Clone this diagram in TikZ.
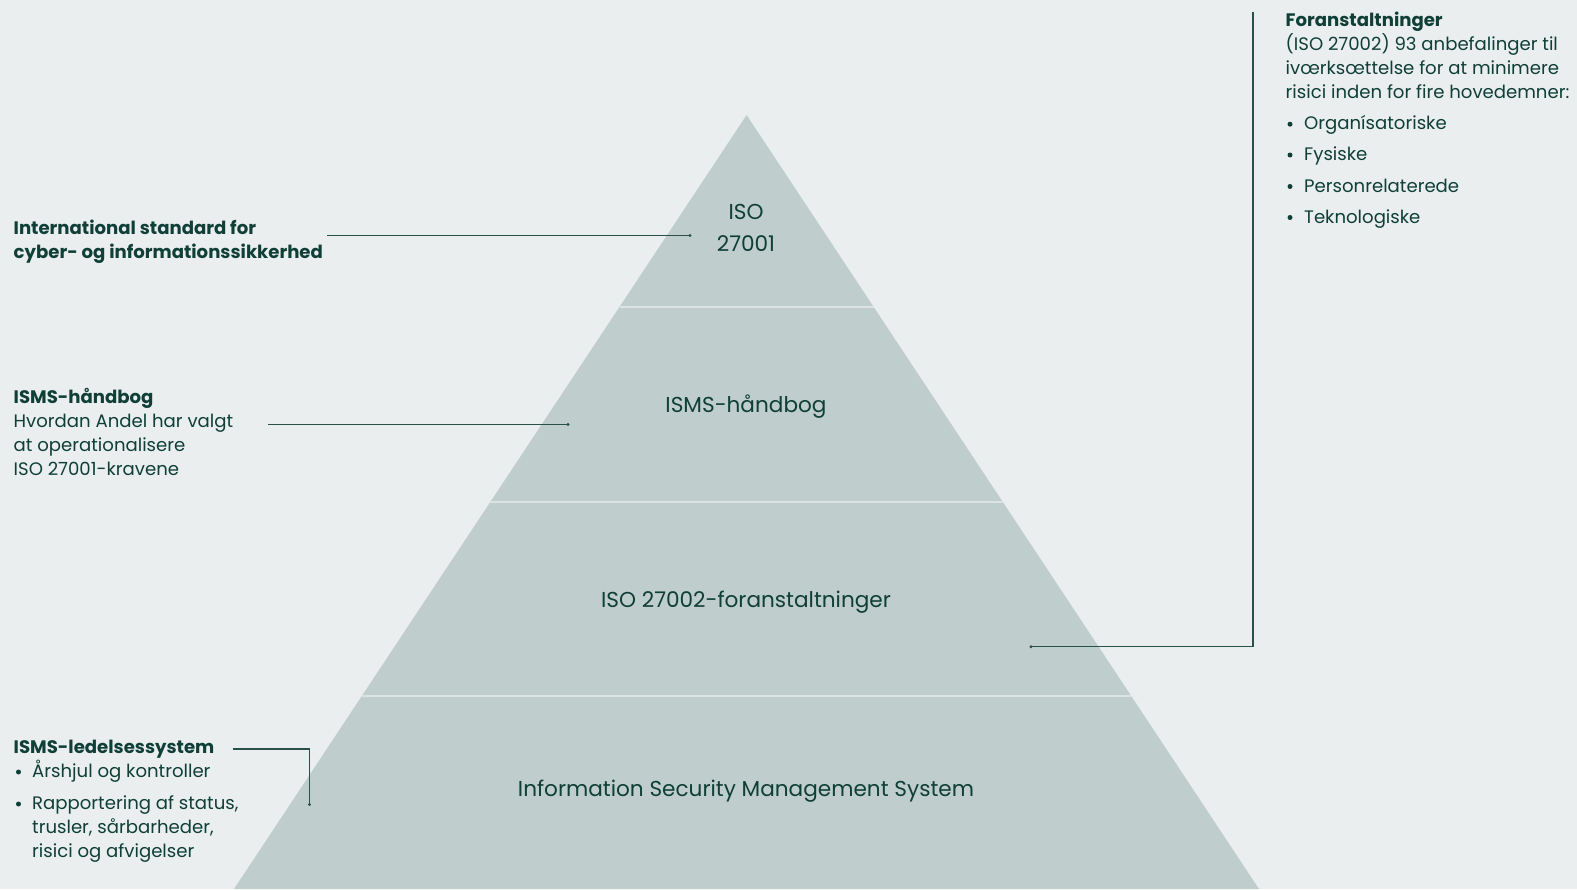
\documentclass[tikz,border=0pt]{standalone}
\usepackage{fontspec}
\setmainfont{Poppins}
\definecolor{bg}{HTML}{EAEEEE}
\definecolor{pyr}{HTML}{BFCECC}
\definecolor{sep}{HTML}{DCE4E2}
\definecolor{ink}{HTML}{0F3F37}
\definecolor{wire}{HTML}{2A504A}
\tikzset{
  side/.style={anchor=base west, inner sep=0pt, text=ink, font=\fontsize{18.1}{24}\selectfont},
  sidebold/.style={side, font=\fontsize{18.1}{24}\selectfont\bfseries},
  bul/.style={circle, fill=ink, inner sep=0pt, minimum size=5pt},
  lvl/.style={anchor=base, inner sep=0pt, text=ink, font=\fontsize{21.6}{30}\selectfont},
  wireline/.style={draw=wire, line width=1.3pt},
  enddot/.style={fill=wire},
}
\begin{document}
\begin{tikzpicture}[x=1pt,y=-1pt]
\useasboundingbox (0,0) rectangle (1577,889);
\fill[bg] (0,0) rectangle (1577,889);
% pyramid
\fill[pyr] (746.6,115) -- (1259,889) -- (234,889) -- cycle;
\draw[sep, line width=1.6pt] (619.7,306.7) -- (873.5,306.7);
\draw[sep, line width=1.6pt] (490.3,502) -- (1002.9,502);
\draw[sep, line width=1.6pt] (361.9,696) -- (1131.3,696);
% pyramid labels
\node[lvl] (l1a) at (746,219) {ISO};
\node[lvl] (l1b) at (746,251.5) {27001};
\node[lvl] (l2) at (746,412) {ISMS-håndbog};
\node[lvl] (l3) at (746,607.5) {ISO 27002-foranstaltninger};
\node[lvl] (l4) at (746,796) {Information Security Management System};
% left block 1
\node[sidebold] (t1a) at (13.5,234) {International standard for};
\node[sidebold] (t1b) at (13.5,258) {cyber- og informationssikkerhed};
\coordinate (c1s) at (327,235.5);
\coordinate (c1e) at (690,235.5);
\draw[wireline] (c1s) -- (c1e);
\fill[enddot] (c1e) circle (1.6);
% left block 2
\node[sidebold] (t2a) at (13.5,403) {ISMS-håndbog};
\node[side] (t2b) at (13.5,427.5) {Hvordan Andel har valgt};
\node[side] (t2c) at (13.5,451.5) {at operationalisere};
\node[side] (t2d) at (13.5,475.5) {ISO 27001-kravene};
\coordinate (c2s) at (268,424.5);
\coordinate (c2e) at (568,424.5);
\draw[wireline] (c2s) -- (c2e);
\fill[enddot] (c2e) circle (1.6);
% left block 3
\node[sidebold] (t3a) at (13.5,753) {ISMS-ledelsessystem};
\node[bul] (b3a) at (18.5,772) {};
\node[side] (t3b) at (32,777.5) {Årshjul og kontroller};
\node[bul] (b3b) at (18.5,804) {};
\node[side] (t3c) at (32,809.5) {Rapportering af status,};
\node[side] (t3d) at (32,833.5) {trusler, sårbarheder,};
\node[side] (t3e) at (32,857.5) {risici og afvigelser};
\coordinate (c3s) at (233.3,749);
\coordinate (c3k) at (309.5,749);
\coordinate (c3e) at (309.5,804.5);
\draw[wireline] (c3s) -- (c3k) -- (c3e);
\fill[enddot] (c3e) circle (1.6);
% right block
\node[sidebold] (r1) at (1285.5,26.7) {Foranstaltninger};
\node[side] (r2) at (1285.5,50.5) {(ISO 27002) 93 anbefalinger til};
\node[side] (r3) at (1285.5,74.5) {ivœrksœttelse for at minimere};
\node[side] (r4) at (1285.5,98.5) {risici inden for fire hovedemner:};
\node[bul] (rb1) at (1290,124.2) {};
\node[side] (r5) at (1304,129.7) {Organísatoriske};
\node[bul] (rb2) at (1290,155) {};
\node[side] (r6) at (1304,160.5) {Fysiske};
\node[bul] (rb3) at (1290,186.5) {};
\node[side] (r7) at (1304,192) {Personrelaterede};
\node[bul] (rb4) at (1290,217.5) {};
\node[side] (r8) at (1304,223) {Teknologiske};
\coordinate (c4s) at (1253,12);
\coordinate (c4k) at (1253,646.7);
\coordinate (c4e) at (1031,646.7);
\draw[wireline] (c4s) -- (c4k) -- (c4e);
\fill[enddot] (c4e) circle (1.6);
\end{tikzpicture}
\end{document}
